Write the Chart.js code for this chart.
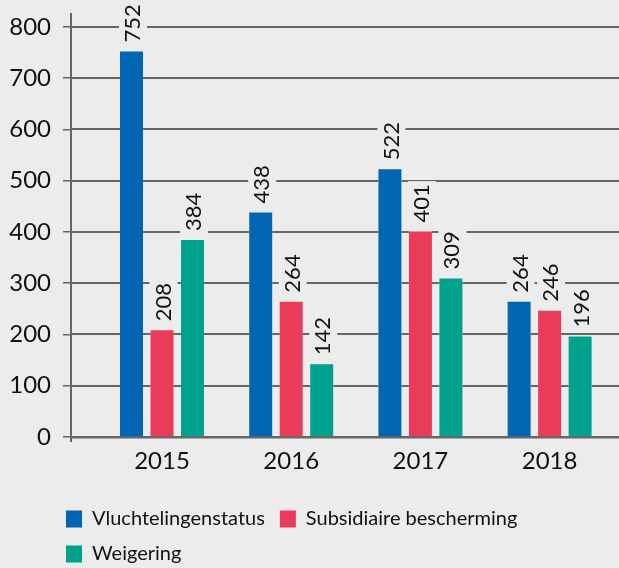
<!DOCTYPE html>
<html>
<head>
<meta charset="utf-8">
<script src="https://cdn.jsdelivr.net/npm/chart.js@4/dist/chart.umd.min.js"></script>
<style>
  html, body { margin: 0; padding: 0; background: #ececec; }
  #wrap { width: 619px; height: 568px; }
</style>
</head>
<body>
<div id="wrap"><canvas id="bars"></canvas></div>
<script>
const years = [2015, 2016, 2017, 2018];
const vluchteling = [752, 438, 522, 264];
const subsidiair = [208, 264, 401, 246];
const weigering = [384, 142, 309, 196];
const yTicks = [0, 100, 200, 300, 400, 500, 600, 700, 800];

const bgColor = '#ececec';
const gridColor = '#666';
const fontFamily = 'Lato, "Open Sans", sans-serif';

// grey page background behind the chart
const bgPlugin = {
  id: 'bg',
  beforeDraw(chart) {
    const ctx = chart.ctx;
    ctx.save();
    ctx.fillStyle = bgColor;
    ctx.fillRect(0, 0, chart.width, chart.height);
    ctx.restore();
  }
};

// legend starts under the tick labels, not at the chart area edge
const legendShift = {
  id: 'legendShift',
  afterLayout(chart) {
    chart.legend.left = 51;
  }
};

// grid lines (skipping the bars, so they sit behind them),
// then rotated value labels on a box that hides the grid
const valueLabels = {
  id: 'valueLabels',
  afterDatasetsDraw(chart) {
    const ctx = chart.ctx;
    const area = chart.chartArea;
    const yScale = chart.scales.y;
    const bars = [];
    chart.data.datasets.forEach((ds, i) => {
      chart.getDatasetMeta(i).data.forEach(bar => bars.push(bar));
    });

    ctx.save();
    ctx.fillStyle = gridColor;
    yTicks.forEach(v => {
      const py = Math.round(yScale.getPixelForValue(v));
      const gaps = bars
        .filter(b => b.y < py)
        .map(b => [b.x - b.width / 2, b.x + b.width / 2])
        .sort((a, b) => a[0] - b[0]);
      let start = area.left;
      gaps.forEach(([a, b]) => {
        if (a > start) ctx.fillRect(start, py - 1, a - start, 2);
        start = Math.max(start, b);
      });
      if (area.right > start) ctx.fillRect(start, py - 1, area.right - start, 2);
    });
    // y axis runs a little below the zero line
    ctx.fillRect(Math.round(area.left) - 1, Math.round(area.bottom), 2, 5);
    ctx.restore();

    ctx.save();
    ctx.font = '22px ' + fontFamily;
    ctx.textAlign = 'left';
    ctx.textBaseline = 'middle';
    chart.data.datasets.forEach((ds, i) => {
      chart.getDatasetMeta(i).data.forEach((bar, j) => {
        const txt = String(ds.data[j]);
        const w = ctx.measureText(txt).width;
        ctx.save();
        ctx.translate(bar.x + 1.5, bar.y - 9);
        ctx.rotate(-Math.PI / 2);
        ctx.fillStyle = bgColor;
        ctx.fillRect(-3, -14, w + 6, 28);
        ctx.fillStyle = '#111';
        ctx.fillText(txt, 0, 0);
        ctx.restore();
      });
    });
    ctx.restore();
  }
};

const barConfig = {
  type: 'bar',
  data: {
    labels: years,
    datasets: [
      {
        label: 'Vluchtelingenstatus',
        backgroundColor: '#0066b3',
        borderWidth: 0,
        data: vluchteling,
      },
      {
        label: 'Subsidiaire bescherming',
        backgroundColor: '#e83c5a',
        borderWidth: 0,
        data: subsidiair,
      },
      {
        label: 'Weigering',
        backgroundColor: '#00a28e',
        borderWidth: 0,
        data: weigering,
      },
    ],
  },
  options: {
    responsive: true,
    maintainAspectRatio: false,
    animation: false,
    categoryPercentage: 0.708,
    barPercentage: 0.754,
    layout: {
      padding: { top: 14, left: 0, right: 0, bottom: -6 },
    },
    plugins: {
      legend: {
        position: 'bottom',
        align: 'start',
        fullSize: false,
        labels: {
          boxWidth: 16,
          boxHeight: 17,
          padding: 15,
          color: '#111',
          font: { family: fontFamily, size: 20 },
        },
      },
      tooltip: { enabled: false },
    },
    scales: {
      x: {
        type: 'linear',
        offset: false,
        min: 2014.2957,
        max: 2018.537,
        afterBuildTicks: (scale) => { scale.ticks = years.map(v => ({ value: v })); },
        afterFit: (scale) => { scale.height = 57; },
        grid: { display: false },
        border: { display: true, color: gridColor, width: 2.5 },
        ticks: {
          padding: 2,
          color: '#111',
          font: { family: fontFamily, size: 24 },
          callback: (v) => String(v),
        },
      },
      y: {
        min: 0,
        max: 825,
        ticks: {
          stepSize: 100,
          includeBounds: false,
          padding: 12,
          color: '#111',
          font: { family: fontFamily, size: 24 },
        },
        afterBuildTicks: (scale) => { scale.ticks = yTicks.map(v => ({ value: v })); },
        afterFit: (scale) => {
          scale.width = 71;
          scale.paddingTop = 0;
          scale.paddingBottom = 0;
        },
        grid: { color: gridColor, lineWidth: 1.5, tickLength: 8, drawTicks: true, drawOnChartArea: false },
        border: { display: true, color: gridColor, width: 2 },
      },
    },
  },
  plugins: [bgPlugin, legendShift, valueLabels],
};

const barsCtx = document.getElementById('bars');
window.myBar = new Chart(barsCtx, barConfig);
</script>
</body>
</html>
